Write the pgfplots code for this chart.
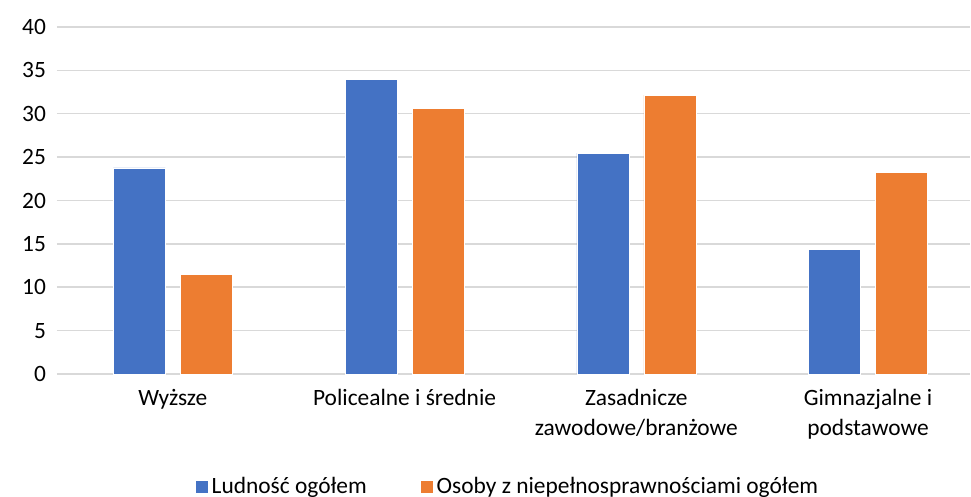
\documentclass[border=0pt]{standalone}
\usepackage{pgfplots}
\pgfplotsset{compat=1.18}
\usepackage{fontspec}
\setmainfont{Carlito}
\definecolor{cblue}{HTML}{4472C4}
\definecolor{corange}{HTML}{ED7D31}
\definecolor{cgrid}{HTML}{D9D9D9}
\begin{document}
\begin{tikzpicture}
\begin{axis}[
  scale only axis,
  width=456.5pt, height=173.5pt,
  ybar=7.5pt, bar width=26pt,
  xmin=-0.5, xmax=3.44,
  ymin=0, ymax=40,
  ytick={0,5,...,40},
  xtick={0,1,2,3},
  xticklabels={Wyższe, Policealne i średnie, {Zasadnicze\\zawodowe/branżowe}, {Gimnazjalne i\\podstawowe}},
  xticklabel style={align=center, font=\fontsize{11.7}{15}\selectfont, yshift=-4pt},
  yticklabel style={font=\fontsize{11.7}{14}\selectfont, xshift=-2pt},
  /pgf/number format/assume math mode=true,
  major tick length=0pt,
  ymajorgrids, grid style={cgrid, line width=0.75pt},
  axis x line*=bottom, axis y line*=left,
  x axis line style={cgrid, line width=0.75pt},
  y axis line style={draw=none},
  legend style={at={(0.495,-0.326)}, anchor=center, draw=none, legend columns=2,
    font=\fontsize{11.7}{14}\selectfont,
    /tikz/every odd column/.append style={column sep=0pt},
    /tikz/every even column/.append style={column sep=25pt}},
  legend image code/.code={\fill[#1, draw=none] (0pt,-3pt) rectangle (6pt,3pt);},
  clip=false,
]
\addplot[fill=cblue, draw=white, line width=0.3pt] coordinates {(0,23.75) (1,34.0) (2,25.45) (3,14.4)};
\addplot[fill=corange, draw=white, line width=0.3pt] coordinates {(0,11.5) (1,30.65) (2,32.15) (3,23.25)};
\legend{Ludność ogółem, Osoby z niepełnosprawnościami ogółem}
\end{axis}
\pgfresetboundingbox
\path (current axis.south west) ++(-28.5pt,-61.5pt) coordinate (bl);
\path (current axis.north east) ++(0.5pt,13.5pt) coordinate (tr);
\useasboundingbox (bl) rectangle (tr);
\end{tikzpicture}
\end{document}
